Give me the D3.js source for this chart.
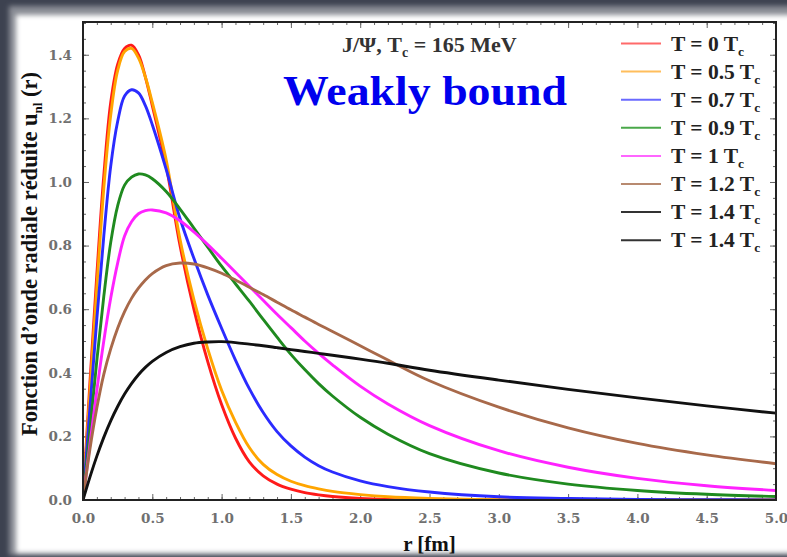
<!DOCTYPE html>
<html>
<head>
<meta charset="utf-8">
<script src="https://cdn.jsdelivr.net/npm/d3@7"></script>
<style>
body{margin:0;padding:0;background:#3d4250;}
svg{display:block;}
</style>
</head>
<body>
<div id="chart"></div>
<script>
// r grid [fm] shared by every curve
var rVals = [0,0.05,0.1,0.15,0.2,0.25,0.3,0.35,0.4,0.45,0.5,0.6,0.7,0.8,0.9,1.0,1.1,1.2,1.3,1.4,1.5,1.6,1.7,1.8,2.0,2.2,2.5,3.0,3.5,4.0,4.5,5.0];

var uT00 = [0,0.37,0.71,1.02,1.25,1.37,1.42,1.43,1.40,1.33,1.24,1.05,0.80,0.60,0.435,0.30,0.195,0.12,0.076,0.05,0.034,0.023,0.016,0.011,0.005,0.002,0.0005,0,0,0,0,0];
var uT05 = [0,0.34,0.67,0.98,1.21,1.35,1.41,1.42,1.39,1.33,1.25,1.07,0.82,0.63,0.475,0.345,0.245,0.165,0.112,0.08,0.059,0.045,0.035,0.027,0.017,0.010,0.005,0.001,0,0,0,0];
var uT07 = [0,0.29,0.57,0.83,1.05,1.19,1.27,1.29,1.28,1.24,1.18,1.04,0.885,0.76,0.645,0.54,0.44,0.35,0.275,0.215,0.17,0.135,0.108,0.088,0.06,0.042,0.025,0.01,0.005,0.002,0.001,0];
var uT09 = [0,0.22,0.44,0.64,0.81,0.925,0.99,1.015,1.025,1.022,1.01,0.97,0.915,0.855,0.795,0.735,0.68,0.625,0.568,0.512,0.458,0.41,0.366,0.327,0.26,0.207,0.146,0.085,0.05,0.03,0.018,0.011];
var uT10 = [0,0.175,0.345,0.5,0.635,0.745,0.83,0.875,0.9,0.91,0.912,0.903,0.878,0.843,0.803,0.76,0.716,0.672,0.628,0.584,0.542,0.5,0.461,0.425,0.358,0.302,0.234,0.155,0.103,0.068,0.045,0.03];
var uT12 = [0,0.16,0.29,0.395,0.475,0.54,0.592,0.634,0.666,0.692,0.712,0.737,0.745,0.742,0.73,0.713,0.692,0.669,0.646,0.622,0.598,0.575,0.552,0.53,0.485,0.44,0.375,0.292,0.227,0.178,0.142,0.114];
var uT14 = [0,0.072,0.138,0.197,0.249,0.294,0.333,0.366,0.394,0.417,0.436,0.464,0.482,0.493,0.497,0.498,0.495,0.49,0.485,0.479,0.473,0.467,0.461,0.455,0.443,0.43,0.408,0.377,0.348,0.321,0.296,0.273];

var legendLabels = ["0","0.5","0.7","0.9","1","1.2","1.4","1.4"];
var curveColors = ["#ff1a1a","#ffa500","#2b2bff","#1f8a1f","#ff22ff","#a8694a","#111111"];
var legendColors = ["#ff6a6a","#ffbe5c","#6a6aff","#4aa84a","#ff66ff","#b88a70","#333333","#333333"];
var xTicks = [0,0.5,1.0,1.5,2.0,2.5,3.0,3.5,4.0,4.5,5.0];
var yTicks = [0,0.2,0.4,0.6,0.8,1.0,1.2,1.4];

var series = [uT00,uT05,uT07,uT09,uT10,uT12,uT14];

var W = 787, H = 557;
var pL = 83, pT = 22, pR = 776, pB = 500;

var svg = d3.select("#chart").append("svg")
	.attr("width", W)
	.attr("height", H);

var defs = svg.append("defs");
defs.append("filter").attr("id","blur")
	.attr("x","-10%").attr("y","-10%").attr("width","120%").attr("height","120%")
	.append("feGaussianBlur").attr("stdDeviation", 2.5);
defs.append("clipPath").attr("id","plotclip")
	.append("rect")
	.attr("x", pL).attr("y", pT)
	.attr("width", pR-pL).attr("height", pB-pT);

// slide frame
svg.append("rect").attr("width",W).attr("height",H).attr("fill","#3d4250");
svg.append("rect").attr("x",9).attr("y",6).attr("width",W).attr("height",H-8)
	.attr("fill","#8a8d95").attr("filter","url(#blur)");
svg.append("rect").attr("x",16).attr("y",15).attr("width",W).attr("height",538)
	.attr("fill","#ffffff").attr("filter","url(#blur)");

//scales
var xscale = d3.scaleLinear().domain([0,5]).range([pL,pR]);
var yscale = d3.scaleLinear().domain([0,1.503]).range([pB,pT]);

var serif = "'Liberation Serif', 'Times New Roman', serif";
var tickFont = "'DejaVu Serif', serif";

// minor ticks
svg.append("g").attr("transform","translate(0,"+pB+")")
	.call(d3.axisBottom(xscale).ticks(50).tickSize(-3).tickFormat(""));
svg.append("g").attr("transform","translate(0,"+pT+")")
	.call(d3.axisTop(xscale).ticks(50).tickSize(-3).tickFormat(""));
svg.append("g").attr("transform","translate("+pL+",0)")
	.call(d3.axisLeft(yscale).ticks(30).tickSize(-3).tickFormat(""));
svg.append("g").attr("transform","translate("+pR+",0)")
	.call(d3.axisRight(yscale).ticks(30).tickSize(-3).tickFormat(""));

// major ticks
svg.append("g").attr("class","xaxis").attr("transform","translate(0,"+pB+")")
	.call(d3.axisBottom(xscale).tickValues(xTicks).tickSize(-6).tickPadding(13).tickFormat(d3.format(".1f")));
svg.append("g").attr("transform","translate(0,"+pT+")")
	.call(d3.axisTop(xscale).tickValues(xTicks).tickSize(-6).tickFormat(""));
svg.append("g").attr("class","yaxis").attr("transform","translate("+pL+",0)")
	.call(d3.axisLeft(yscale).tickValues(yTicks).tickSize(-6).tickPadding(11).tickFormat(d3.format(".1f")));
svg.append("g").attr("transform","translate("+pR+",0)")
	.call(d3.axisRight(yscale).tickValues(yTicks).tickSize(-6).tickFormat(""));

svg.selectAll(".domain").remove();
svg.selectAll(".tick line").attr("stroke","#666").attr("stroke-width",1);
svg.selectAll(".xaxis text, .yaxis text")
	.attr("fill","#707070")
	.style("font-family", tickFont)
	.style("font-size","13.5px")
	.style("font-weight","bold");

// curves
var line = d3.line()
	.x(function(d){ return xscale(d[0]); })
	.y(function(d){ return yscale(d[1]); })
	.curve(d3.curveCatmullRom.alpha(0.5));

var plot = svg.append("g").attr("clip-path","url(#plotclip)");
series.forEach(function(vals, i){
	var pts = rVals.map(function(r, k){ return [r, vals[k]]; });
	plot.append("path")
		.attr("d", line(pts))
		.attr("fill","none")
		.attr("stroke", curveColors[i])
		.attr("stroke-width", 2.9)
		.attr("stroke-linejoin","round");
});

// frame
svg.append("rect")
	.attr("x", pL).attr("y", pT)
	.attr("width", pR-pL).attr("height", pB-pT)
	.attr("fill","none").attr("stroke","#222").attr("stroke-width",2);

// axis titles
svg.append("text")
	.attr("x", (pL+pR)/2).attr("y", 551)
	.attr("text-anchor","middle")
	.style("font-family", serif).style("font-weight","bold").style("font-size","21px")
	.attr("fill","#111")
	.text("r [fm]");

var yt = svg.append("text")
	.attr("transform","translate(37,254) rotate(-90)")
	.attr("text-anchor","middle")
	.style("font-family", serif).style("font-weight","bold").style("font-size","22.5px")
	.attr("fill","#111");
yt.append("tspan").text("Fonction d\u2019onde radiale r\u00e9duite u");
yt.append("tspan").attr("font-size","13px").attr("dy",5).text("nl");
yt.append("tspan").attr("dy",-5).text(" (r)");

// titles
var t1 = svg.append("text")
	.attr("x", 342).attr("y", 52)
	.style("font-family", serif).style("font-weight","bold").style("font-size","22px")
	.attr("fill","#333");
t1.append("tspan").text("J/\u03a8, T");
t1.append("tspan").attr("font-size","14px").attr("dy",5).text("c");
t1.append("tspan").attr("dy",-5).text(" = 165 MeV");

svg.append("text")
	.attr("x", 283).attr("y", 105)
	.attr("textLength", 284).attr("lengthAdjust","spacingAndGlyphs")
	.style("font-family", serif).style("font-weight","bold").style("font-size","42px")
	.attr("fill","#0000ee")
	.text("Weakly bound");

// legend
var lg = svg.append("g");
legendLabels.forEach(function(lab, i){
	var y = 43.5 + i*28.1;
	lg.append("line")
		.attr("x1",621).attr("x2",661).attr("y1",y).attr("y2",y)
		.attr("stroke", legendColors[i]).attr("stroke-width",2);
	var t = lg.append("text")
		.attr("x",671).attr("y",y+7)
		.style("font-family", serif).style("font-weight","bold").style("font-size","21.5px")
		.attr("fill","#222");
	t.append("tspan").text("T = "+lab+" T");
	t.append("tspan").attr("font-size","13.5px").attr("dy",5).text("c");
});
</script>
</body>
</html>
